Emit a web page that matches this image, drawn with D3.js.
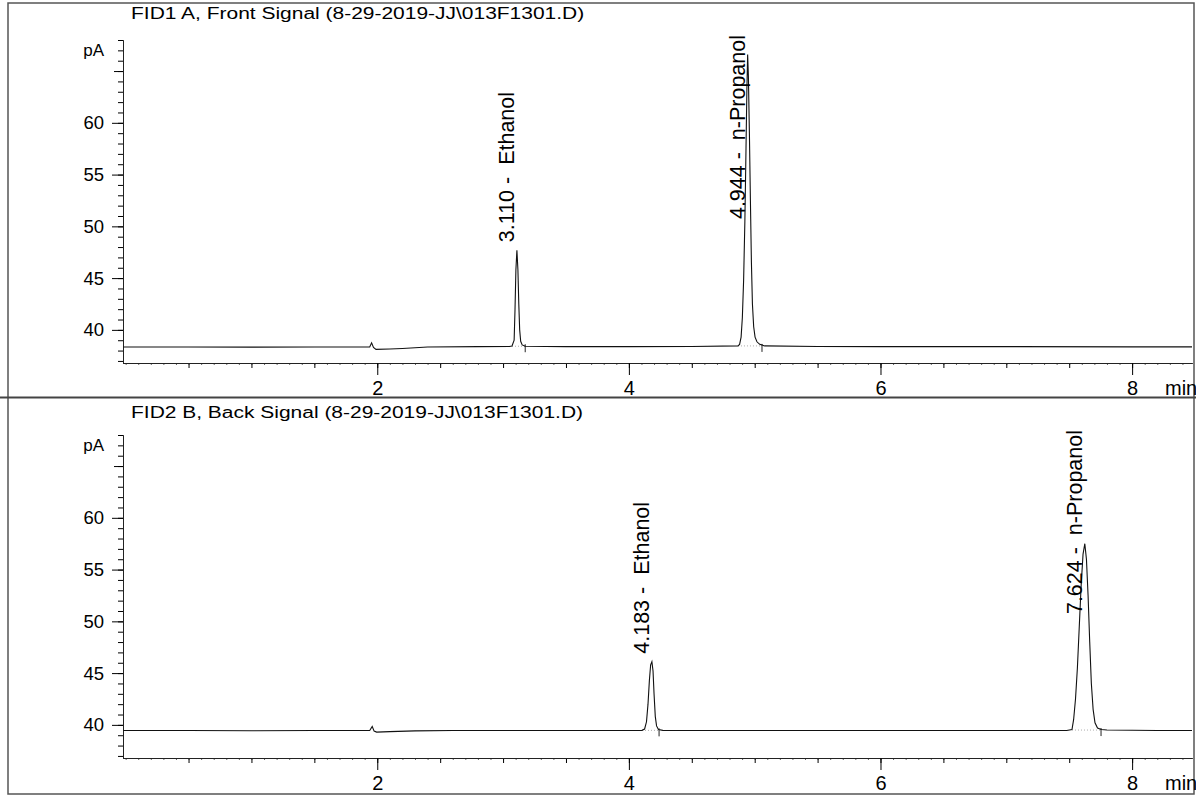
<!DOCTYPE html>
<html lang="en">
<head>
<meta charset="UTF-8">
<script src="https://cdnjs.cloudflare.com/ajax/libs/d3/7.8.5/d3.min.js"></script>
<title>FID chromatogram</title>
<style>
    body { margin: 0; background: #fff; }
    svg text { font-family: "Liberation Sans", Arial, sans-serif; fill: #000; }
</style>
</head>
<body>
<svg id="chart" width="1196" height="796"></svg>

<script>
    // signal titles
    let frontTitle = "FID1 A, Front Signal (8-29-2019-JJ\\013F1301.D)";
    let backTitle = "FID2 B, Back Signal (8-29-2019-JJ\\013F1301.D)";

    // tick labels
    let xMajor = [2, 4, 6, 8];
    let yMajor = [40, 45, 50, 55, 60];

    // front signal trace [min, pA]
    let frontTrace = [
        [-0.02, 38.35], [0.5, 38.35], [1.0, 38.33], [1.5, 38.35], [1.94, 38.35],
        [1.955, 38.75], [1.97, 38.3], [1.99, 38.12], [2.1, 38.15], [2.2, 38.2],
        [2.4, 38.35], [2.8, 38.38], [3.05, 38.4], [3.071, 38.45],
        [3.088, 39.0], [3.095, 42.0], [3.102, 45.8], [3.110, 47.7], [3.118, 45.8],
        [3.125, 42.5], [3.132, 40.0], [3.140, 38.9], [3.152, 38.55], [3.176, 38.42],
        [3.5, 38.38], [4.0, 38.38], [4.5, 38.4], [4.867, 38.45],
        [4.88, 38.6], [4.892, 39.3], [4.902, 41.2], [4.912, 44.8], [4.922, 50.5],
        [4.931, 57.5], [4.938, 63.2], [4.944, 66.6], [4.950, 64.5], [4.958, 59.0],
        [4.966, 52.5], [4.974, 46.5], [4.982, 42.5], [4.992, 40.3], [5.003, 39.3],
        [5.018, 38.85], [5.040, 38.6], [5.080, 38.45], [5.5, 38.4], [6.0, 38.38],
        [7.0, 38.38], [8.0, 38.36], [8.476, 38.36]
    ];
    let frontPeaks = [
        {rt: 3.110, name: "Ethanol", apex: 47.7, start: 3.071, end: 3.176, base: 38.42},
        {rt: 4.944, name: "n-Propanol", apex: 66.6, start: 4.867, end: 5.058, base: 38.45}
    ];

    // back signal trace [min, pA]
    let backTrace = [
        [-0.02, 39.45], [0.5, 39.45], [1.0, 39.43], [1.5, 39.45], [1.94, 39.45],
        [1.96, 39.85], [1.975, 39.4], [1.995, 39.3], [2.1, 39.35], [2.3, 39.42],
        [2.6, 39.45], [3.0, 39.45], [3.5, 39.45], [4.0, 39.45], [4.104, 39.47],
        [4.125, 39.6], [4.140, 40.3], [4.152, 42.0], [4.163, 44.3], [4.173, 45.8],
        [4.183, 46.1], [4.192, 45.2], [4.200, 43.0], [4.210, 40.8], [4.220, 39.9],
        [4.235, 39.55], [4.27, 39.47], [5.0, 39.45], [6.0, 39.45], [7.0, 39.45],
        [7.48, 39.45], [7.522, 39.55], [7.535, 40.5], [7.550, 42.5], [7.565, 45.5],
        [7.580, 49.5], [7.595, 53.5], [7.610, 56.5], [7.624, 57.5], [7.637, 56.0],
        [7.650, 52.5], [7.663, 48.0], [7.676, 44.0], [7.690, 41.5], [7.705, 40.2],
        [7.725, 39.7], [7.755, 39.55], [7.80, 39.5], [8.2, 39.45], [8.476, 39.45]
    ];
    let backPeaks = [
        {rt: 4.183, name: "Ethanol", apex: 46.1, start: 4.104, end: 4.240, base: 39.47},
        {rt: 7.624, name: "n-Propanol", apex: 57.5, start: 7.522, end: 7.753, base: 39.5}
    ];

    let svg = d3.select('#chart');
    let plot_left = 123, plot_right = 1192;
    let plot_top = 40, plot_bottom = 363;

    var x_range = d3.scaleLinear()
        .domain([-0.021, 8.476])
        .range([plot_left, plot_right]);

    var y_range = d3.scaleLinear()
        .domain([36.8, 68])
        .range([plot_bottom, plot_top]);

    // outer frame and divider
    svg.append('rect')
        .attr('x', 8).attr('y', 3).attr('width', 1186).attr('height', 791)
        .style('fill', 'none').style('stroke', '#555').style('stroke-width', 1.5);
    svg.append('line')
        .attr('x1', 0).attr('x2', 1196).attr('y1', 397.5).attr('y2', 397.5)
        .style('stroke', '#444').style('stroke-width', 2);

    function drawPanel(offset, title, titleY, trace, peaks) {
        let g = svg.append('g').attr('transform', 'translate(0,' + offset + ')');

        let t = g.append('text')
            .attr('x', 131).attr('y', titleY)
            .style('font-size', '16px')
            .text(title);
        let tl = t.node().getComputedTextLength();
        t.attr('textLength', tl * 1.31).attr('lengthAdjust', 'spacingAndGlyphs');

        g.append('text')
            .attr('x', 104).attr('y', 56)
            .attr('text-anchor', 'end')
            .style('font-size', '17px')
            .text('pA');

        // x axis: tiny, medium, then labelled ticks
        g.append('g')
            .attr('transform', 'translate(0,' + plot_bottom + ')')
            .call(d3.axisBottom(x_range).tickValues(d3.range(0, 8.45, 0.1)).tickSize(2).tickSizeOuter(0).tickFormat(''))
            .call(a => a.selectAll('line').style('stroke', '#666'));
        g.append('g')
            .attr('transform', 'translate(0,' + plot_bottom + ')')
            .call(d3.axisBottom(x_range).tickValues(d3.range(0.5, 8.5, 0.5)).tickSize(5).tickSizeOuter(0).tickFormat(''));
        let xa = g.append('g')
            .attr('transform', 'translate(0,' + plot_bottom + ')')
            .call(d3.axisBottom(x_range).tickValues(xMajor).tickSize(12).tickPadding(6).tickSizeOuter(0));
        xa.selectAll('text').style('font-size', '20px').style('font-family', '"Liberation Sans", Arial, sans-serif');
        g.selectAll('.domain').style('stroke', '#222');

        g.append('text')
            .attr('x', 1165).attr('y', 395)
            .style('font-size', '20px')
            .text('min');

        // y axis
        g.append('g')
            .attr('transform', 'translate(' + plot_left + ',0)')
            .call(d3.axisLeft(y_range).tickValues(d3.range(37, 68.5, 1)).tickSize(5).tickSizeOuter(0).tickFormat(''));
        g.append('g')
            .attr('transform', 'translate(' + plot_left + ',0)')
            .call(d3.axisLeft(y_range).tickValues([65]).tickSize(9).tickSizeOuter(0).tickFormat(''));
        let ya = g.append('g')
            .attr('transform', 'translate(' + plot_left + ',0)')
            .call(d3.axisLeft(y_range).tickValues(yMajor).tickSize(11).tickPadding(8).tickSizeOuter(0));
        ya.selectAll('text').style('font-size', '18.5px').style('font-family', '"Liberation Sans", Arial, sans-serif');
        g.selectAll('.domain').style('stroke', '#222');

        // integration baselines and peak end marks
        g.selectAll('.ibase')
            .data(peaks)
            .enter()
            .append('line')
            .attr('class', 'ibase')
            .attr('x1', d => x_range(d.start)).attr('x2', d => x_range(d.end))
            .attr('y1', d => y_range(d.base)).attr('y2', d => y_range(d.base))
            .style('stroke', '#aaa').style('stroke-width', 1).style('stroke-dasharray', '1,2');
        g.selectAll('.endmark')
            .data(peaks)
            .enter()
            .append('line')
            .attr('class', 'endmark')
            .attr('x1', d => x_range(d.end)).attr('x2', d => x_range(d.end))
            .attr('y1', d => y_range(d.base) - 2).attr('y2', d => y_range(d.base) + 6)
            .style('stroke', '#222').style('stroke-width', 1);

        // signal
        let line = d3.line()
            .x(d => x_range(d[0]))
            .y(d => y_range(d[1]));
        g.append('path')
            .datum(trace)
            .attr('d', line)
            .style('fill', 'none').style('stroke', '#111').style('stroke-width', 1.1);

        // peak labels, rotated, kept inside the panel
        peaks.forEach(function (p) {
            let lx = x_range(p.rt) - 3;
            let lab = g.append('text')
                .style('font-size', '21.5px')
                .style('white-space', 'pre')
                .text(p.rt.toFixed(3) + ' -  ' + p.name);
            let len = lab.node().getComputedTextLength();
            let ly = y_range(p.apex) - 8;
            if (ly - len < plot_top - 5) ly = plot_top - 5 + len;
            lab.attr('transform', 'translate(' + lx + ',' + ly + ') rotate(-90)');
        });
    }

    drawPanel(0, frontTitle, 19, frontTrace, frontPeaks);
    drawPanel(395, backTitle, 23, backTrace, backPeaks);
</script>
</body>
</html>
